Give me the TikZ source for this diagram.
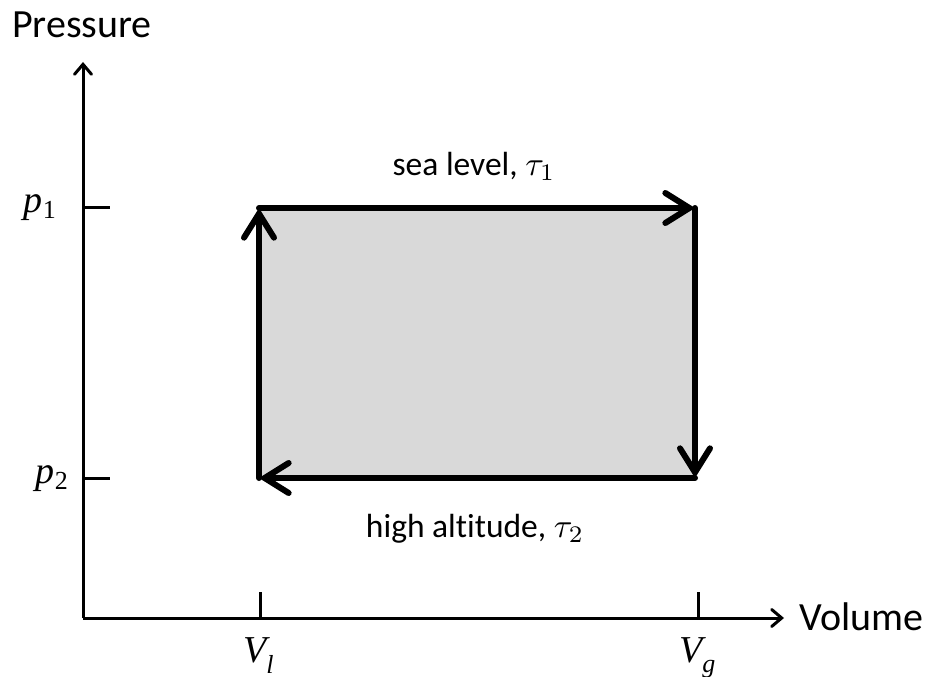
\documentclass[tikz,border=0pt]{standalone}
\usepackage{fontspec}
\setmainfont{Carlito}[Ligatures=NoCommon]
\newfontfamily\tnr{Liberation Serif}
\usepackage{graphicx}
\usetikzlibrary{arrows.meta}
\definecolor{boxfill}{HTML}{D9D9D9}
\newcommand{\mymath}[2]{\scalebox{#1}{\fontsize{10}{12}\selectfont$#2$}}
% italic symbol with subscript: #1 base, #2 subscript text, #3 drop (pt)
\newcommand{\tsym}[3]{{\tnr\fontsize{38}{40}\selectfont\itshape #1}\raisebox{-#3pt}{\tnr\fontsize{26}{28}\selectfont #2}}
\tikzset{
  axisline/.style={line width=3pt, -{Straight Barb[length=10pt,width=17pt,line cap=round]}},
  cycleline/.style={line width=6pt, line cap=round, -{Straight Barb[length=24pt,width=30pt,line cap=round]}},
  tickline/.style={line width=3pt},
  bigtext/.style={inner sep=0pt, font=\fontsize{40}{42}\selectfont},
  labeltext/.style={inner sep=0pt, font=\fontsize{33.5}{36}\selectfont},
  mathlabel/.style={inner sep=0pt},
}
\begin{document}
\begin{tikzpicture}[x=1pt,y=-1pt]
\useasboundingbox (0,0) rectangle (927,677);
% axes
\coordinate (O) at (83,618);
\coordinate (ytip) at (83,62);
\coordinate (xtip) at (784,618);
% rectangle corners
\coordinate (A) at (259,208);
\coordinate (B) at (695,208);
\coordinate (C) at (695,478);
\coordinate (D) at (259,478);
\fill[boxfill] (A) rectangle (C);
\draw[axisline] (O) -- (ytip);
\draw[axisline] (O) -- (xtip);
% ticks
\coordinate (p1a) at (83,207);
\coordinate (p1b) at (110,207);
\coordinate (p2a) at (83,478);
\coordinate (p2b) at (110,478);
\coordinate (vla) at (260,618);
\coordinate (vlb) at (260,592);
\coordinate (vga) at (698,618);
\coordinate (vgb) at (698,592);
\draw[tickline] (p1a) -- (p1b);
\draw[tickline] (p2a) -- (p2b);
\draw[tickline] (vla) -- (vlb);
\draw[tickline] (vga) -- (vgb);
% cycle
\draw[cycleline] (A) -- (B);
\draw[cycleline] (B) -- (C);
\draw[cycleline] (C) -- (D);
\draw[cycleline] (D) -- (A);
% labels
\node[bigtext, anchor=base west] (pressure) at (12,38) {Pressure};
\node[bigtext, anchor=base west] (volume) at (799,630) {Volume};
\node[labeltext, anchor=base] (sea) at (474,175) {sea level, \mymath{3.4}{\tau_1}};
\node[labeltext, anchor=base] (high) at (475,537) {high altitude, \mymath{3.4}{\tau_2}};
\node[mathlabel, anchor=base east] (p1) at (56,212) {\tsym{p}{1}{6}};
\node[mathlabel, anchor=base east] (p2) at (68,483) {\tsym{p}{2}{6}};
\node[mathlabel, anchor=base west] (vl) at (243,662) {\tsym{V}{\itshape l}{11}};
\node[mathlabel, anchor=base west] (vg) at (679,662) {\tsym{V}{\itshape g}{10}};
\end{tikzpicture}
\end{document}
